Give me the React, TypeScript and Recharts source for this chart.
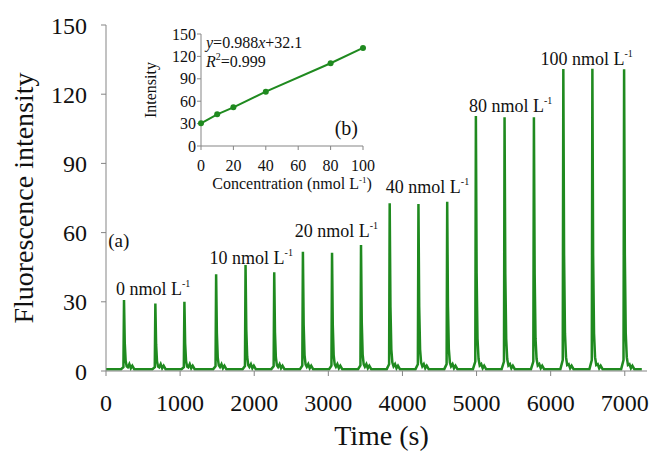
import React from "react";
import { LineChart, Line, XAxis, YAxis, ReferenceDot } from "recharts";

const timeTicks = [0, 1000, 2000, 3000, 4000, 5000, 6000, 7000];
const intensityTicks = [0, 30, 60, 90, 120, 150];

// injection peaks
const peakTimes = [243, 666, 1058, 1486, 1883, 2270, 2657, 3050, 3441, 3828, 4216, 4604, 4991, 5378, 5774, 6171, 6563, 6991];
const peakHeights = [30.8, 29.3, 30.0, 41.9, 45.9, 42.8, 51.7, 51.3, 54.6, 72.7, 72.4, 73.4, 110.5, 110.0, 110.0, 130.9, 131.0, 130.8];
const baselineLevel = 0.8;
const traceStart = 0;
const traceEnd = 7230;

// shape of one injection: offset (s), share of peak height, small after-bumps (a.u.)
const profileOffsets = [-40, -8, 0, 10, 22, 36, 52, 72, 92, 112, 138];
const profileShare = [0, 0.03, 1, 0.38, 0.12, 0.04, 0.01, 0, 0, 0, 0];
const profileBump = [0, 0, 0, 0, 0, 0, 0.5, 2.2, 0.4, 1.5, 0];

const groupLabels = ["0", "10", "20", "40", "80", "100"];
const groupLabelTimes = [635, 1960, 3108, 4338, 5460, 6486];
const groupLabelLevels = [33, 46.4, 58.2, 77, 112.3, 132.6];

// inset calibration
const concentrations = [0, 10, 20, 40, 80, 100];
const calibIntensity = [30.4, 42.4, 51.8, 72.8, 110.8, 131.3];
const concTicks = [0, 20, 40, 60, 80, 100];

const green = "#1f8a1f";
const axisGray = "#858585";
const serif = "'Liberation Serif', 'Times New Roman', serif";

const trace: { t: number; v: number }[] = [{ t: traceStart, v: baselineLevel }];
peakTimes.forEach((pt, i) => {
  profileOffsets.forEach((off, k) => {
    trace.push({ t: pt + off, v: baselineLevel + (peakHeights[i] - baselineLevel) * profileShare[k] + profileBump[k] });
  });
});
trace.push({ t: traceEnd, v: baselineLevel });

const calibData = concentrations.map((c, i) => ({ c, v: calibIntensity[i] }));

const Sup = ({ children, rise = 8, size = 10 }: { children: React.ReactNode; rise?: number; size?: number }) => (
  <tspan dy={-rise} fontSize={size}>{children}</tspan>
);

export default function App() {
  return (
    <div style={{ position: "absolute", left: 0, top: 0, width: 649, height: 455, background: "#fff", fontFamily: serif }}>
      <LineChart width={649} height={455} data={trace} margin={{ top: 25, right: 2, left: 0, bottom: 0 }}>
        <XAxis
          dataKey="t"
          type="number"
          domain={[0, 7300]}
          ticks={timeTicks}
          interval={0}
          height={84}
          stroke={axisGray}
          tickSize={5}
          tickMargin={18}
          tick={{ fill: "#111", fontSize: 24, fontFamily: serif }}
          label={{
            content: ({ viewBox }: any) => (
              <text x={viewBox.x + viewBox.width / 2 + 5} y={445} textAnchor="middle" fontSize={28} fontFamily={serif} fill="#111">
                Time (s)
              </text>
            ),
          }}
        />
        <YAxis
          type="number"
          domain={[0, 150]}
          ticks={intensityTicks}
          interval={0}
          width={106}
          stroke={axisGray}
          tickSize={5}
          tickMargin={14}
          tick={{ fill: "#111", fontSize: 24, fontFamily: serif }}
          label={{
            content: ({ viewBox }: any) => {
              const cy = viewBox.y + viewBox.height / 2;
              return (
                <text x={33} y={cy} transform={`rotate(-90, 33, ${cy})`} textAnchor="middle" fontSize={28} fontFamily={serif} fill="#111">
                  Fluorescence intensity
                </text>
              );
            },
          }}
        />
        <Line dataKey="v" type="linear" stroke={green} strokeWidth={2.5} dot={false} isAnimationActive={false} />
        {groupLabels.map((g, i) => (
          <ReferenceDot
            key={g}
            x={groupLabelTimes[i]}
            y={groupLabelLevels[i]}
            r={0}
            shape={(p: any) => (
              <text x={p.cx} y={p.cy} textAnchor="middle" fontSize={18} fontFamily={serif} fill="#111">
                {g} nmol L<Sup>-1</Sup>
              </text>
            )}
          />
        ))}
        <ReferenceDot
          x={30}
          y={53.7}
          r={0}
          shape={(p: any) => (
            <text x={p.cx} y={p.cy} textAnchor="start" fontSize={19} fontFamily={serif} fill="#111">(a)</text>
          )}
        />
      </LineChart>

      <div style={{ position: "absolute", left: 129, top: 10 }}>
        <LineChart width={246} height={186} data={calibData} margin={{ top: 24, right: 12, left: 0, bottom: 0 }}>
          <XAxis
            dataKey="c"
            type="number"
            domain={[0, 100]}
            ticks={concTicks}
            interval={0}
            height={50}
            stroke={axisGray}
            tickSize={4}
            tickMargin={10}
            tick={{ fill: "#111", fontSize: 16, fontFamily: serif }}
            label={{
              content: ({ viewBox }: any) => (
                <text x={viewBox.x + viewBox.width / 2 + 10} y={viewBox.y + 43} textAnchor="middle" fontSize={16} fontFamily={serif} fill="#111">
                  Concentration (nmol L<Sup rise={6} size={9}>-1</Sup><tspan dy={6}>)</tspan>
                </text>
              ),
            }}
          />
          <XAxis xAxisId="top" orientation="top" type="number" domain={[0, 100]} height={0} tick={false} tickLine={false} stroke={axisGray} />
          <YAxis
            type="number"
            domain={[0, 150]}
            ticks={intensityTicks}
            interval={0}
            width={72}
            stroke={axisGray}
            tickSize={4}
            tickMargin={1}
            tick={{ fill: "#111", fontSize: 16, fontFamily: serif }}
            label={{
              content: ({ viewBox }: any) => {
                const cy = viewBox.y + viewBox.height / 2;
                const x = viewBox.x + 27;
                return (
                  <text x={x} y={cy} transform={`rotate(-90, ${x}, ${cy})`} textAnchor="middle" fontSize={16} fontFamily={serif} fill="#111">
                    Intensity
                  </text>
                );
              },
            }}
          />
          <YAxis yAxisId="right" orientation="right" type="number" domain={[0, 150]} width={0} tick={false} tickLine={false} stroke={axisGray} />
          <Line dataKey="v" type="linear" stroke={green} strokeWidth={2} dot={{ r: 3, fill: green, stroke: green, strokeWidth: 0 }} isAnimationActive={false} />
          <ReferenceDot
            x={0}
            y={150}
            r={0}
            shape={(p: any) => (
              <text x={p.cx + 5} y={p.cy + 14} fontSize={16} fontFamily={serif} fill="#111">
                <tspan fontStyle="italic">y</tspan>=0.988<tspan fontStyle="italic">x</tspan>+32.1
                <tspan x={p.cx + 5} dy={18.5} fontStyle="italic">R</tspan>
                <tspan dy={-7} fontSize={10}>2</tspan>
                <tspan dy={7}>=0.999</tspan>
              </text>
            )}
          />
          <ReferenceDot
            x={100}
            y={0}
            r={0}
            shape={(p: any) => (
              <text x={p.cx - 5} y={p.cy - 11} textAnchor="end" fontSize={20} fontFamily={serif} fill="#111">(b)</text>
            )}
          />
        </LineChart>
      </div>
    </div>
  );
}
